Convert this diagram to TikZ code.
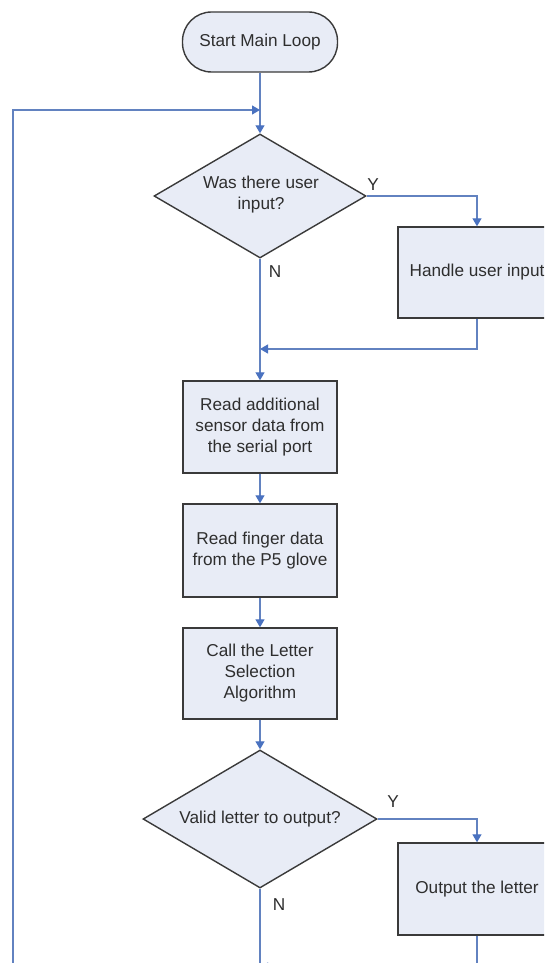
\documentclass[tikz,border=0pt]{standalone}
\usepackage{fontspec}
\setmainfont{Liberation Sans}
\usetikzlibrary{shapes.geometric,arrows.meta}
\definecolor{boxfill}{HTML}{E8ECF6}
\definecolor{boxedge}{HTML}{3A3A3A}
\definecolor{flow}{HTML}{6282C0}
\definecolor{tipblue}{HTML}{4A72C0}
\definecolor{ink}{HTML}{2E2E2E}
\begin{document}
\begin{tikzpicture}[x=1pt,y=-1pt,
  txt/.style={font=\fontsize{17.2}{21}\selectfont, text=ink, align=center},
  procbox/.style={txt, draw=boxedge, line width=1.4pt, fill=boxfill,
    minimum width=154pt, minimum height=92pt, inner sep=0pt},
  terminal/.style={procbox, rounded corners=29pt, minimum width=155pt, minimum height=60pt},
  decision/.style={diamond, draw=boxedge, line width=1.4pt, fill=boxfill, inner sep=0pt},
  flowline/.style={draw=flow, line width=1.2pt},
  flowarrow/.style={flowline, -{Triangle[length=8pt,width=9pt,color=tipblue]}},
  branch/.style={txt}]
\useasboundingbox (0,0) rectangle (544,963);
\clip (0,0) rectangle (544,963);
\fill[white] (0,0) rectangle (544,963);

% shapes
\node[terminal] (start) at (260,42) {Start Main Loop};
\node[decision, minimum width=212pt, minimum height=124pt] (d1) at (260,196) {};
\node[txt] (d1t) at (261,195) {Was there user\\input?};
\node[procbox, minimum width=158pt, minimum height=91pt] (handle) at (477,272.5) {Handle user input};
\node[procbox] (read1) at (260,427) {Read additional\\sensor data from\\the serial port};
\node[procbox, minimum height=93pt] (read2) at (260,550.5) {Read finger data\\from the P5 glove};
\node[procbox, minimum height=91pt] (call) at (260,673.5) {Call the Letter\\Selection\\Algorithm};
\node[decision, minimum width=234pt, minimum height=138pt] (d2) at (260,819) {};
\node[txt] (d2t) at (d2.center) {Valid letter to output?};
\node[procbox, minimum width=158pt, minimum height=92pt] (out) at (477,889) {Output the letter};

% branch labels
\node[branch] (y1) at (373,185) {Y};
\node[branch] (n1) at (275,272) {N};
\node[branch] (y2) at (393,802) {Y};
\node[branch] (n2) at (279,905) {N};

% helper points for the loop-back paths
\coordinate (tl) at (13,110);
\coordinate (bl) at (13,995);
\coordinate (m1) at (260,349);
\coordinate (m2) at (260,967);
\coordinate (m3) at (260,995);

% connectors
\draw[flowarrow] (start.south) -- (d1.north);
\draw[flowarrow] (bl) -- (tl) -- (tl -| start.south);
\draw[flowarrow] (d1.east) -| (handle.north);
\draw[flowarrow] (handle.south) |- (m1);
\draw[flowarrow] (d1.south) -- (read1.north);
\draw[flowarrow] (read1.south) -- (read2.north);
\draw[flowarrow] (read2.south) -- (call.north);
\draw[flowarrow] (call.south) -- (d2.north);
\draw[flowarrow] (d2.east) -| (out.north);
\draw[flowarrow] (out.south) |- (m2);
\draw[flowline] (d2.south) -- (m3) -- (bl);
\end{tikzpicture}
\end{document}
